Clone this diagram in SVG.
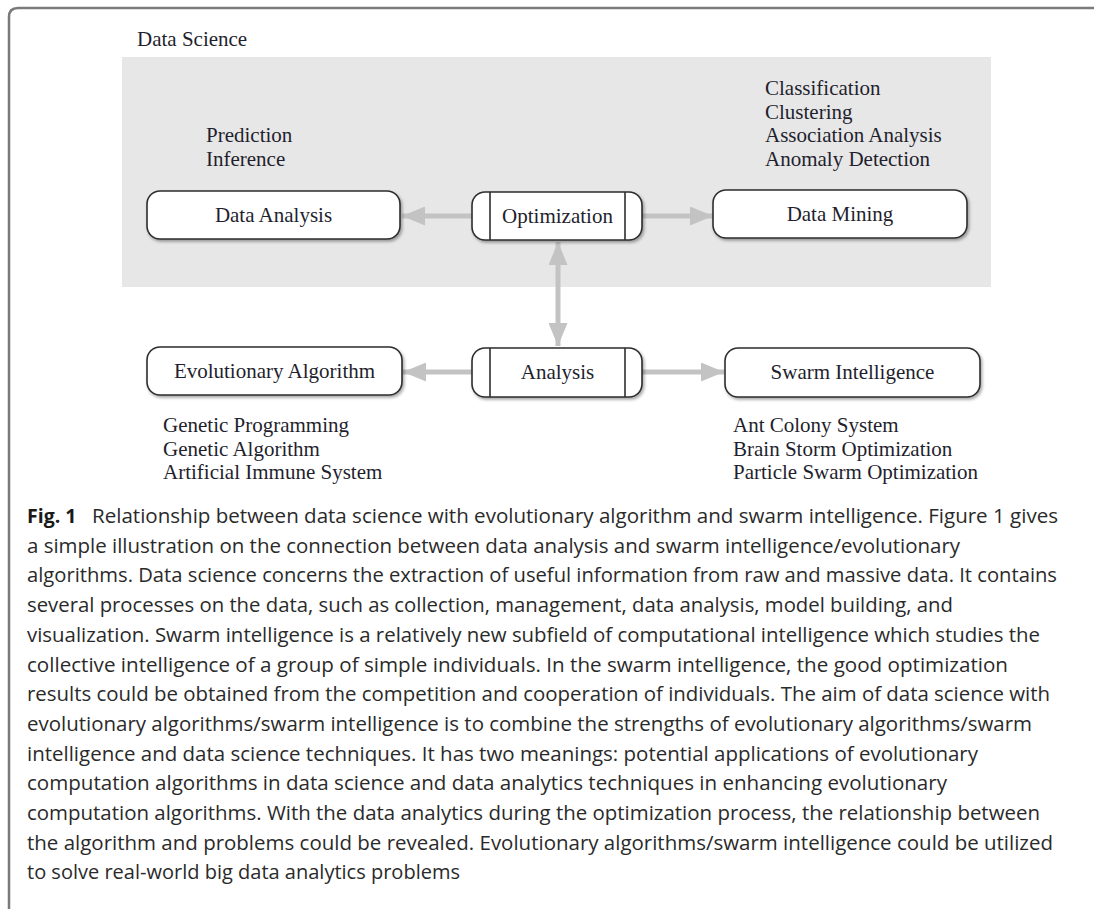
<svg xmlns="http://www.w3.org/2000/svg" width="1094" height="909" viewBox="0 0 1094 909">
  <defs>
    <style>
      .lbl { font-family: "Liberation Serif", "Times New Roman", serif; font-size: 21px; fill: #1f1f2e; }
      .ctr { text-anchor: middle; }
      .box { fill: #ffffff; stroke: #2e2e2e; stroke-width: 1.6; filter: url(#sh); }
      .bar { stroke: #2e2e2e; stroke-width: 1.6; }
      .conn { stroke: #c3c3c3; stroke-width: 5; fill: none; }
      .cap { font-family: "Open Sans", "Noto Sans", sans-serif; font-size: 19.5px; fill: #2a2a2a; }
      .capb { font-weight: bold; fill: #1a1a1a; }
    </style>
    <filter id="sh" x="-10%" y="-20%" width="125%" height="150%">
      <feDropShadow dx="1.5" dy="2" stdDeviation="1.5" flood-color="#000" flood-opacity="0.35"/>
    </filter>
    <marker id="ah" viewBox="0 0 10 10" refX="10" refY="5" markerWidth="4.6" markerHeight="3.8" orient="auto-start-reverse" markerUnits="strokeWidth" preserveAspectRatio="none">
      <path d="M0,0 L10,5 L0,10 z" fill="#c3c3c3"/>
    </marker>
  </defs>

  <g id="frame">
    <path d="M9,909 L9,17 Q9,8 18,8 L1094,8" fill="none" stroke="#7a7a7a" stroke-width="2.5"/>
  </g>

  <g id="data-science">
    <rect x="122" y="57" width="869" height="230" fill="#e7e7e7"/>
    <text class="lbl" x="137" y="46">Data Science</text>
  </g>

  <g id="connectors">
    <line class="conn" x1="472" y1="216" x2="402" y2="216" marker-end="url(#ah)"/>
    <line class="conn" x1="642" y1="216" x2="713" y2="216" marker-end="url(#ah)"/>
    <line class="conn" x1="558" y1="242" x2="558" y2="346" marker-start="url(#ah)" marker-end="url(#ah)"/>
    <line class="conn" x1="472" y1="372" x2="403" y2="372" marker-end="url(#ah)"/>
    <line class="conn" x1="642" y1="372" x2="724" y2="372" marker-end="url(#ah)"/>
  </g>

  <g id="data-analysis">
    <rect class="box" x="147" y="191" width="253" height="48" rx="13"/>
    <text class="lbl ctr" x="273.5" y="222">Data Analysis</text>
    <text class="lbl" x="206" y="142">Prediction</text>
    <text class="lbl" x="206" y="165.5">Inference</text>
  </g>

  <g id="optimization">
    <rect class="box" x="472" y="192" width="170" height="48" rx="13"/>
    <line class="bar" x1="490" y1="192" x2="490" y2="240"/>
    <line class="bar" x1="625" y1="192" x2="625" y2="240"/>
    <text class="lbl ctr" x="557.5" y="223">Optimization</text>
  </g>

  <g id="data-mining">
    <rect class="box" x="713" y="190" width="254" height="48" rx="13"/>
    <text class="lbl ctr" x="840" y="221">Data Mining</text>
    <text class="lbl" x="765" y="95">Classification</text>
    <text class="lbl" x="765" y="118.5">Clustering</text>
    <text class="lbl" x="765" y="142">Association Analysis</text>
    <text class="lbl" x="765" y="165.5">Anomaly Detection</text>
  </g>

  <g id="evolutionary-algorithm">
    <rect class="box" x="147" y="347" width="255" height="48" rx="13"/>
    <text class="lbl ctr" x="274.5" y="378">Evolutionary Algorithm</text>
    <text class="lbl" x="163" y="432">Genetic Programming</text>
    <text class="lbl" x="163" y="455.5">Genetic Algorithm</text>
    <text class="lbl" x="163" y="479">Artificial Immune System</text>
  </g>

  <g id="analysis">
    <rect class="box" x="472" y="348" width="170" height="49" rx="13"/>
    <line class="bar" x1="490" y1="348" x2="490" y2="397"/>
    <line class="bar" x1="625" y1="348" x2="625" y2="397"/>
    <text class="lbl ctr" x="557.5" y="379">Analysis</text>
  </g>

  <g id="swarm-intelligence">
    <rect class="box" x="725" y="348" width="255" height="49" rx="13"/>
    <text class="lbl ctr" x="852.5" y="379">Swarm Intelligence</text>
    <text class="lbl" x="733" y="432">Ant Colony System</text>
    <text class="lbl" x="733" y="455.5">Brain Storm Optimization</text>
    <text class="lbl" x="733" y="479">Particle Swarm Optimization</text>
  </g>

  <g id="caption">
    <text class="cap capb" x="27" y="523">Fig. 1</text>
    <text class="cap" x="92" y="523" textLength="966" lengthAdjust="spacingAndGlyphs">Relationship between data science with evolutionary algorithm and swarm intelligence. Figure 1 gives</text>
    <text class="cap" x="27" y="552.7" textLength="933" lengthAdjust="spacingAndGlyphs">a simple illustration on the connection between data analysis and swarm intelligence/evolutionary</text>
    <text class="cap" x="27" y="582.4" textLength="1030" lengthAdjust="spacingAndGlyphs">algorithms. Data science concerns the extraction of useful information from raw and massive data. It contains</text>
    <text class="cap" x="27" y="612.1" textLength="926" lengthAdjust="spacingAndGlyphs">several processes on the data, such as collection, management, data analysis, model building, and</text>
    <text class="cap" x="27" y="641.8" textLength="1013" lengthAdjust="spacingAndGlyphs">visualization. Swarm intelligence is a relatively new subfield of computational intelligence which studies the</text>
    <text class="cap" x="27" y="671.5" textLength="981" lengthAdjust="spacingAndGlyphs">collective intelligence of a group of simple individuals. In the swarm intelligence, the good optimization</text>
    <text class="cap" x="27" y="701.2" textLength="1023" lengthAdjust="spacingAndGlyphs">results could be obtained from the competition and cooperation of individuals. The aim of data science with</text>
    <text class="cap" x="27" y="730.9" textLength="1005" lengthAdjust="spacingAndGlyphs">evolutionary algorithms/swarm intelligence is to combine the strengths of evolutionary algorithms/swarm</text>
    <text class="cap" x="27" y="760.6" textLength="951" lengthAdjust="spacingAndGlyphs">intelligence and data science techniques. It has two meanings: potential applications of evolutionary</text>
    <text class="cap" x="27" y="790.3" textLength="920" lengthAdjust="spacingAndGlyphs">computation algorithms in data science and data analytics techniques in enhancing evolutionary</text>
    <text class="cap" x="27" y="820" textLength="1013" lengthAdjust="spacingAndGlyphs">computation algorithms. With the data analytics during the optimization process, the relationship between</text>
    <text class="cap" x="27" y="849.7" textLength="1026" lengthAdjust="spacingAndGlyphs">the algorithm and problems could be revealed. Evolutionary algorithms/swarm intelligence could be utilized</text>
    <text class="cap" x="27" y="879.4" textLength="433" lengthAdjust="spacingAndGlyphs">to solve real-world big data analytics problems</text>
  </g>
</svg>
